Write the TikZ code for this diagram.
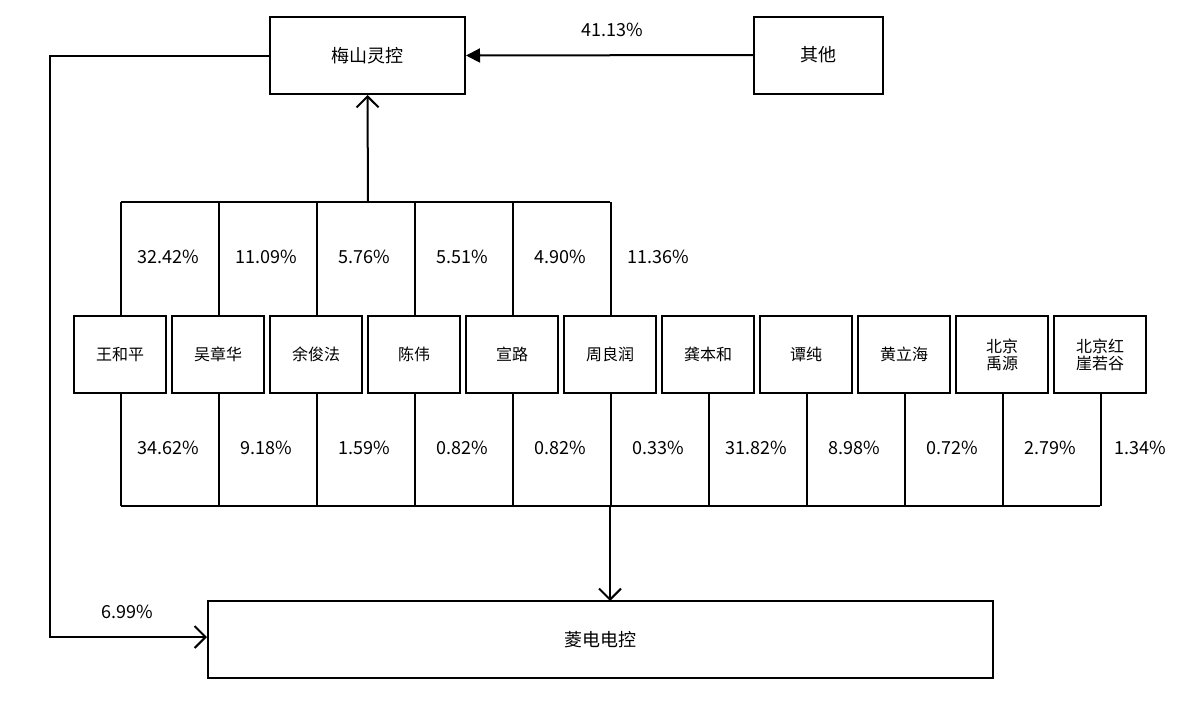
\documentclass[tikz,border=0pt]{standalone}
\usepackage{fontspec}
\setmainfont{Noto Sans CJK SC}
\usetikzlibrary{arrows.meta}
\begin{document}
\begin{tikzpicture}[x=1pt,y=-1pt,line width=2pt,
 big/.style={draw,minimum width=#1,minimum height=77pt,inner sep=0,font=\fontsize{18}{20}\selectfont},
 pbox/.style={draw,minimum width=92pt,minimum height=77pt,inner sep=0,align=center,font=\fontsize{16}{17}\selectfont},
 pct/.style={font=\fontsize{18}{20}\selectfont},
 oa/.style={-{Straight Barb[length=11pt,width=22pt,line width=2pt]}},
 fa/.style={-{Triangle[length=14pt,width=14pt]}}]
\useasboundingbox (0,0) rectangle (1200,720);
\node[big=195pt] (ms) at (367.5,55.5) {梅山灵控};
\node[big=129pt] (qt) at (818.5,55) {其他};
\node[big=785pt] (ld) at (600.5,639.5) {菱电电控};
\draw[fa] (qt.west) -- (ms.east);
\node[pct] (p0) at (612,30) {41.13\%};
\coordinate (c1) at (50,55.5);
\coordinate (c2) at (50,637);
\draw[oa] (ms.west) -- (c1) -- (c2) -- (ld.west |- c2);
\node[pct] (p1) at (127,612) {6.99\%};
\foreach \n [count=\i from 0] in {王和平,吴章华,余俊法,陈伟,宣路,周良润,龚本和,谭纯,黄立海,{北京\\禹源},{北京红\\崖若谷}}
  \node[pbox] (b\i) at (120+98*\i,354.5) {\n};
% upper bracket
\coordinate (ut) at (368,202);
\draw (121,202) -- (610,202);
\foreach \i in {0,...,5} \draw (121+98*\i,316) -- (121+98*\i,202);
\draw[oa] (ut) -- (ms.south);
\foreach \v [count=\i from 0] in {32.42,11.09,5.76,5.51,4.90,11.36}
  \node[pct] at (168+98*\i,257) {\v\%};
% lower bracket
\draw (121,506) -- (1100,506);
\foreach \i in {0,...,10} \draw (121+98*\i,393) -- (121+98*\i,506);
\coordinate (lb) at (610,506);
\draw[oa] (lb) -- (610,601);
\foreach \v [count=\i from 0] in {34.62,9.18,1.59,0.82,0.82,0.33,31.82,8.98,0.72,2.79}
  \node[pct] at (168+98*\i,448) {\v\%};
\node[pct] at (1140,448) {1.34\%};
\end{tikzpicture}
\end{document}
